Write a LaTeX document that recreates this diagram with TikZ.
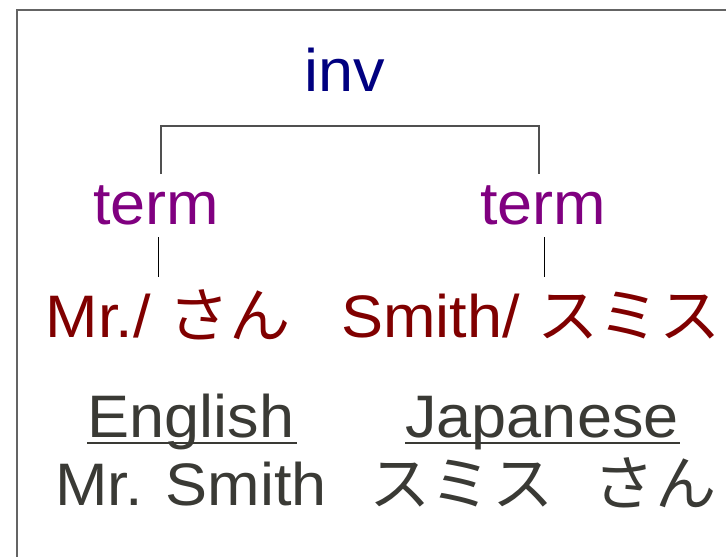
\documentclass[tikz,border=0pt]{standalone}
\usepackage{fontspec}
\setmainfont{Liberation Sans}[FakeStretch=1.05]
\newfontfamily\jpfont{Noto Sans CJK JP}[FakeStretch=1.02]
\definecolor{invcol}{RGB}{0,0,128}
\definecolor{termcol}{RGB}{128,0,128}
\definecolor{wordcol}{RGB}{128,0,0}
\definecolor{glosscol}{RGB}{58,58,53}
\definecolor{framecol}{RGB}{100,100,100}
\definecolor{barcol}{RGB}{80,80,80}
\tikzset{
  lbl/.style={inner sep=0pt, anchor=base, font=\fontsize{60}{62}\selectfont},
  invlbl/.style={lbl, text=invcol},
  termlbl/.style={lbl, text=termcol},
  wordlbl/.style={lbl, text=wordcol},
  glosslbl/.style={lbl, text=glosscol},
  uline/.style={draw=glosscol, line width=2.8pt},
  bar/.style={draw=barcol, line width=1.2pt},
  link/.style={draw=black, line width=0.9pt},
}
\begin{document}
\begin{tikzpicture}[x=1pt,y=1pt]
\useasboundingbox (0,0) rectangle (726,-557);
\draw[framecol, line width=1.3pt] (17,-10) rectangle (760,-600);
\node[invlbl] (inv) at (345,-91) {inv};
\node[termlbl] (t1) at (156,-224) {term};
\node[termlbl] (t2) at (543,-224) {term};
\node[wordlbl] (w1) at (168,-337) {Mr./ {\jpfont さん}};
\node[wordlbl] (w2) at (531,-337) {Smith/ {\jpfont スミス}};
\node[glosslbl] (en) at (191,-437) {English};
\node[glosslbl] (ja) at (542,-437) {Japanese};
\node[glosslbl] (enx) at (191,-505) {Mr. Smith};
\node[glosslbl] (jax) at (543,-505) {\jpfont スミス\hspace{0.68em}さん};
% underlines
\draw[uline] ([xshift=-104pt,yshift=-6pt]en.base) -- ([xshift=106pt,yshift=-6pt]en.base);
\draw[uline] ([xshift=-137pt,yshift=-6pt]ja.base) -- ([xshift=138pt,yshift=-6pt]ja.base);
% tree connectors
\draw[bar] ([xshift=5pt,yshift=50pt]t1.base) -- ([xshift=5pt,yshift=98pt]t1.base) -- ([xshift=-4pt,yshift=98pt]t2.base) -- ([xshift=-4pt,yshift=50pt]t2.base);
\draw[link] ([xshift=2pt,yshift=-13pt]t1.base) -- ([xshift=-10pt,yshift=60pt]w1.base);
\draw[link] ([xshift=1pt,yshift=-13pt]t2.base) -- ([xshift=13pt,yshift=60pt]w2.base);
\end{tikzpicture}
\end{document}
